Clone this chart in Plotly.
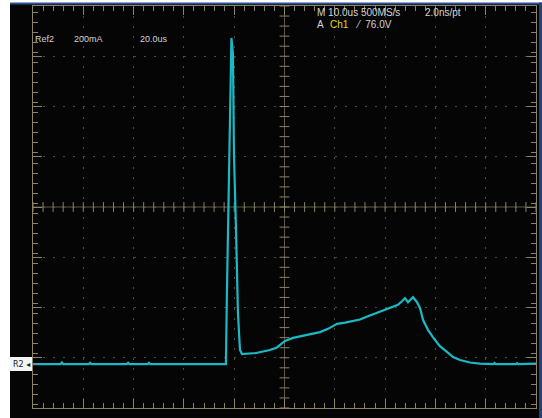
import plotly.graph_objects as go

# ---- data (Ref2: 200 mA/div, 20 us/div) ----
time_us = [0, 11.0, 11.5, 12.0, 22.2, 22.7, 23.2, 37.3, 37.8, 38.3, 45.6, 46.1, 46.6,
           76.7, 77.1, 77.5, 78.3, 78.7, 78.9, 79.5, 79.9, 80.7, 81.5, 82.3, 83.1,
           88.7, 91.1, 94.2, 97.0, 100.2, 103.4, 106.6, 110.1, 114.1, 117.3, 120.9,
           124.1, 126.8, 130.0, 133.2, 136.8, 140.0, 143.1, 145.1, 146.7, 147.9,
           149.1, 149.9, 151.1, 152.7, 153.9, 155.1, 157.1, 159.0, 161.8, 164.6,
           167.0, 169.8, 173.7, 177.7, 183.0, 183.5, 184.0, 192.0, 192.5, 193.0, 200.0]
current_ma = [0, 0, 6, 0, 0, 5, 0, 0, 5, 0, 0, 5, 0,
              0, 282, 504, 837, 1139, 1298, 1234, 837, 544, 202, 56, 40,
              44, 48, 56, 66, 92, 104, 110, 118, 127, 140, 160,
              165, 170, 177, 190, 204, 214, 226, 236, 250, 262,
              246, 254, 266, 246, 222, 175, 135, 107, 71, 48,
              28, 16, 6, 2, 0, 4, 0, 0, 4, 0, 2]

x_range = [0, 200]
y_range = [-175, 1425]
x_div, y_div = 20, 200

grid_col = '#4e4c38'
frame_col = '#8c8464'
trace_col = '#1ab9c6'
text_col = '#d4d4d4'

W, H = 542, 418
L, R, T, B = 33, 6, 6, 10
pw, ph = W - L - R, H - T - B

def px(xp):
    return (xp - L) / pw

def py(yp):
    return (H - B - yp) / ph

fig = go.Figure()

# center crosshair ticks
cx = (x_range[0] + x_range[1]) / 2
cy = (y_range[0] + y_range[1]) / 2
xt = [x_range[0] + i * x_div / 5 for i in range(51)]
yt = [y_range[0] + i * y_div / 5 for i in range(41)]
fig.add_trace(go.Scatter(x=xt, y=[cy] * len(xt), mode='markers', hoverinfo='skip',
                         marker=dict(symbol='line-ns', size=7, line=dict(width=1, color=frame_col)),
                         showlegend=False))
fig.add_trace(go.Scatter(x=[cx] * len(yt), y=yt, mode='markers', hoverinfo='skip',
                         marker=dict(symbol='line-ew', size=7, line=dict(width=1, color=frame_col)),
                         showlegend=False))

fig.add_trace(go.Scatter(x=time_us, y=current_ma, mode='lines',
                         line=dict(color=trace_col, width=2.2), showlegend=False))

fig.add_shape(type='line', x0=cx, x1=cx, y0=y_range[0], y1=y_range[1],
              line=dict(color='#5e5844', width=1), layer='below')
fig.add_shape(type='line', x0=x_range[0], x1=x_range[1], y0=cy, y1=cy,
              line=dict(color='#5e5844', width=1), layer='below')

# screen surround
fig.add_shape(type='rect', xref='paper', yref='paper', x0=px(0), x1=px(10), y0=py(H), y1=py(0),
              fillcolor='white', line_width=0, layer='above')
fig.add_shape(type='rect', xref='paper', yref='paper', x0=px(0), x1=px(W), y0=py(3), y1=py(0),
              fillcolor='white', line_width=0, layer='above')
fig.add_shape(type='rect', xref='paper', yref='paper', x0=px(10), x1=px(W), y0=py(4.5), y1=py(2.5),
              fillcolor='#2d4f96', line_width=0, layer='above')
fig.add_shape(type='rect', xref='paper', yref='paper', x0=px(539), x1=px(W), y0=py(H), y1=py(2.5),
              fillcolor='#22427e', line_width=0, layer='above')

# ref marker
fig.add_shape(type='rect', xref='paper', yref='paper', x0=px(10), x1=px(32), y0=py(371), y1=py(357),
              fillcolor='#f4f4f4', line_width=0, layer='above')
fig.add_annotation(x=px(11), y=py(364), xref='paper', yref='paper', text='R2 ◂', showarrow=False,
                   xanchor='left', yanchor='middle', font=dict(size=8, color='#202020', family='DejaVu Sans'))

def label(xp, yp, txt, size=9, col=text_col):
    fig.add_annotation(x=px(xp), y=py(yp), xref='paper', yref='paper', text=txt, showarrow=False,
                       xanchor='left', yanchor='middle',
                       font=dict(size=size, color=col, family='Liberation Sans'))

label(33, 39, 'Ref2')
label(72, 39, '200mA')
label(138, 39, '20.0us')
label(315, 13, 'M 10.0us 500MS/s', 10)
label(423, 13, '2.0ns/pt', 10)
label(315, 24, 'A', 10)
label(328, 24, 'Ch1', 10, '#dede22')
label(353, 24, '⁄  76.0V', 10)

axis_common = dict(showgrid=True, gridcolor=grid_col, gridwidth=1.2, griddash='2px,8.05px',
                   showline=True, linecolor=frame_col, linewidth=1, mirror='ticks',
                   ticks='inside', ticklen=9, tickcolor=frame_col, tickwidth=1,
                   showticklabels=False, zeroline=False, fixedrange=True)

fig.update_xaxes(range=x_range, dtick=x_div, tick0=x_range[0],
                 minor=dict(dtick=x_div / 5, ticks='inside', ticklen=5, tickcolor=frame_col, showgrid=False),
                 **axis_common)
fig.update_yaxes(range=y_range, dtick=y_div, tick0=y_range[0],
                 minor=dict(dtick=y_div / 5, ticks='inside', ticklen=5, tickcolor=frame_col, showgrid=False),
                 **axis_common)

fig.update_layout(width=W, height=H, margin=dict(l=L, r=R, t=T, b=B, pad=0),
                  paper_bgcolor='#050505', plot_bgcolor='#050505', showlegend=False)

fig.write_html('out.html', config={'displayModeBar': False},
               post_script="document.body.style.margin='0';document.body.style.overflow='hidden';")
